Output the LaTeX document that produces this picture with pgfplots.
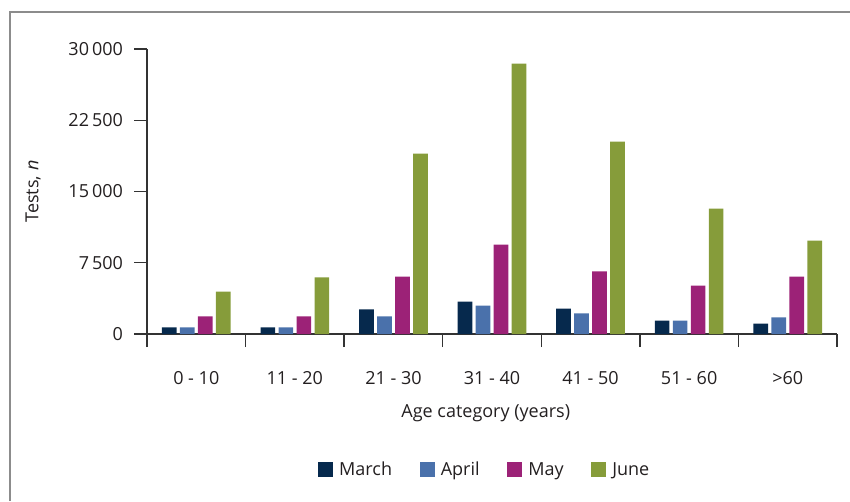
\documentclass[border=0pt]{standalone}
\usepackage{fontspec}
\setmainfont{Open Sans}
\usepackage{pgfplots}
\pgfplotsset{compat=1.18}
\definecolor{cMarch}{HTML}{06294D}
\definecolor{cApril}{HTML}{4A71AB}
\definecolor{cMay}{HTML}{9C2277}
\definecolor{cJune}{HTML}{869C3A}
\definecolor{txt}{HTML}{231F20}
\definecolor{axl}{HTML}{333333}
\begin{document}
\begin{tikzpicture}
\useasboundingbox (0pt,0pt) rectangle (637.5pt,375.75pt);
\draw[line width=1.5pt, color=black!45] (7.5pt,0pt) -- (7.5pt,366.75pt) -- (637.5pt,366.75pt);
\begin{axis}[
  at={(110.25pt,125.25pt)}, anchor=south west,
  scale only axis, width=517.5pt, height=213.75pt,
  font=\fontsize{13.5}{16}\selectfont, 
  /pgf/number format/assume math mode=true,
  scaled y ticks=false,
  ybar=2.5pt, bar width=11pt,
  xmin=-0.5, xmax=6.5, ymin=0, ymax=30000,
  axis x line*=bottom, axis y line*=left,
  axis line style={color=axl, line width=1.1pt},
  every tick/.style={color=axl, line width=1.1pt},
  tick align=outside, major tick length=9.75pt,
  xtick={-0.5,0.5,...,6.5}, xticklabels={},
  extra x ticks={0,1,2,3,4,5,6},
  extra x tick labels={0 - 10, 11 - 20, 21 - 30, 31 - 40, 41 - 50, 51 - 60, >60},
  extra x tick style={major tick length=0pt, tick label style={yshift=-24.5pt}},
  ytick={0,7500,15000,22500,30000},
  yticklabels={0, 7\,500, 15\,000, 22\,500, 30\,000},
  yticklabel style={xshift=-4.75pt},
  tick label style={color=txt},
  every axis y label/.style={at={(axis description cs:-0.165,0.5)}, rotate=90, anchor=center, color=txt},
  every axis x label/.style={at={(axis description cs:0.491,-0.277)}, anchor=center, color=txt},
  ylabel={Tests, \textit{n}},
  xlabel={Age category (years)},
  legend style={at={(axis description cs:0.49,-0.477)}, anchor=center, draw=none, fill=none,
    legend columns=4, text=txt,
    /tikz/every even column/.append style={column sep=18.75pt},
    /tikz/every odd column/.append style={column sep=2.5pt}},
  legend image code/.code={\fill[#1] (0pt,-5.6pt) rectangle (11.25pt,5.6pt);},
  clip=false,
]
\addplot[fill=cMarch, draw=none] coordinates {(0,700) (1,700) (2,2580) (3,3420) (4,2680) (5,1420) (6,1100)};
\addplot[fill=cApril, draw=none] coordinates {(0,700) (1,700) (2,1850) (3,3000) (4,2160) (5,1420) (6,1740)};
\addplot[fill=cMay, draw=none] coordinates {(0,1850) (1,1850) (2,6050) (3,9420) (4,6580) (5,5100) (6,6050)};
\addplot[fill=cJune, draw=none] coordinates {(0,4470) (1,5950) (2,19000) (3,28470) (4,20260) (5,13200) (6,9840)};
\legend{March, April, May, June}
\end{axis}
\end{tikzpicture}
\end{document}
